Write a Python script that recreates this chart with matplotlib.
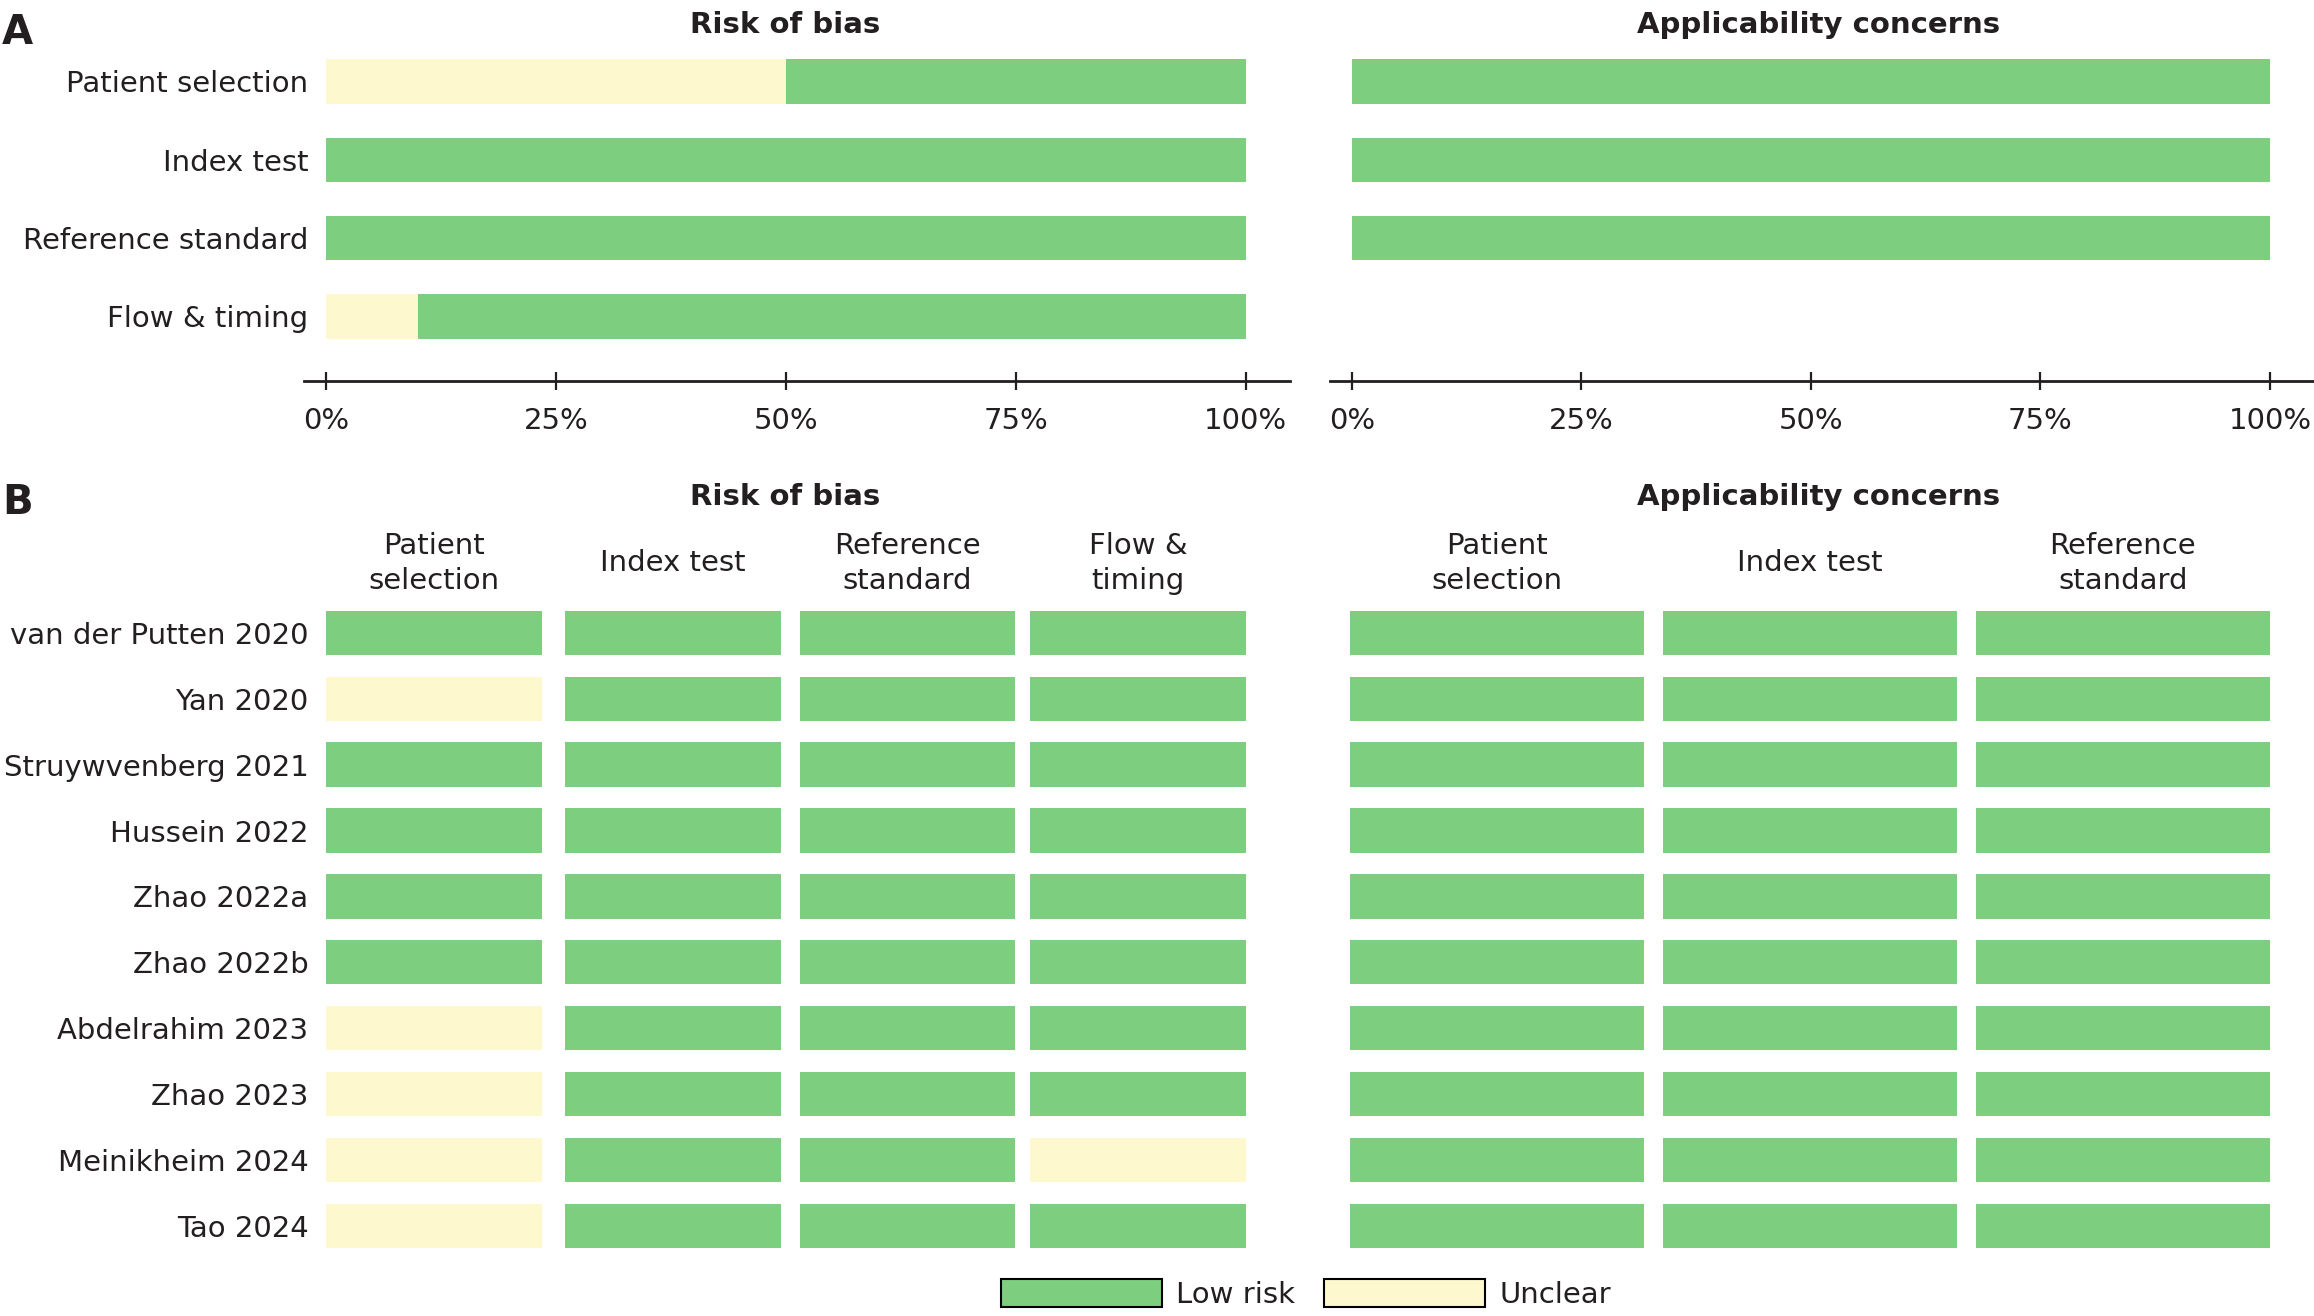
import matplotlib.pyplot as plt
from matplotlib.patches import Patch
import numpy as np

plt.rcParams['font.family'] = 'DejaVu Sans'
plt.rcParams['font.size'] = 21

GREEN = '#7ece7f'
YELLOW = '#fef8cf'
INK = '#231f20'

studies = ['van der Putten 2020', 'Yan 2020', 'Struywvenberg 2021', 'Hussein 2022',
           'Zhao 2022a', 'Zhao 2022b', 'Abdelrahim 2023', 'Zhao 2023',
           'Meinikheim 2024', 'Tao 2024']
rob_domains = ['Patient selection', 'Index test', 'Reference standard', 'Flow & timing']
app_domains = ['Patient selection', 'Index test', 'Reference standard']
rob_headers = ['Patient\nselection', 'Index test', 'Reference\nstandard', 'Flow &\ntiming']
app_headers = ['Patient\nselection', 'Index test', 'Reference\nstandard']

# L = low risk, U = unclear
rob = [['L', 'L', 'L', 'L'],
       ['U', 'L', 'L', 'L'],
       ['L', 'L', 'L', 'L'],
       ['L', 'L', 'L', 'L'],
       ['L', 'L', 'L', 'L'],
       ['L', 'L', 'L', 'L'],
       ['U', 'L', 'L', 'L'],
       ['U', 'L', 'L', 'L'],
       ['U', 'L', 'L', 'U'],
       ['U', 'L', 'L', 'L']]
app = [['L', 'L', 'L'] for s in studies]

cmap = {'L': GREEN, 'U': YELLOW}

# layout helpers (reference measured on a 1568x890 grid)
W, H = 1568.0, 890.0
def box(x0, y0, x1, y1):
    return [x0 / W, 1 - y1 / H, (x1 - x0) / W, (y1 - y0) / H]
def fx(x):
    return x / W
def fy(y):
    return 1 - y / H

fig = plt.figure(figsize=(23.14, 13.16), dpi=100)

# ---------------- panel A: summary bars ----------------
def summary(ax, table, labels, show_labels):
    arr = np.array(table)
    unclear = (arr == 'U').mean(axis=0) * 100
    low = (arr == 'L').mean(axis=0) * 100
    rows = np.arange(len(labels))
    ax.barh(rows, unclear, height=0.566, color=YELLOW)
    ax.barh(rows, low, left=unclear, height=0.566, color=GREEN)
    ax.set_xlim(-2.4, 104.8)
    ax.set_ylim(3.83, -0.472)
    for s in ['top', 'right', 'left']:
        ax.spines[s].set_visible(False)
    ax.spines['bottom'].set_linewidth(2)
    ax.spines['bottom'].set_color(INK)
    ax.set_xticks([0, 25, 50, 75, 100])
    ax.set_xticklabels(['0%', '25%', '50%', '75%', '100%'], color=INK)
    ax.tick_params(axis='x', direction='inout', length=12.7, width=1.6, color=INK, pad=12)
    if show_labels:
        ax.set_yticks(rows)
        ax.set_yticklabels(labels, color=INK)
        ax.tick_params(axis='y', length=0, pad=-3.2)
    else:
        ax.set_yticks([])

axA1 = fig.add_axes(box(206, 30, 874, 258))
summary(axA1, rob, rob_domains, True)
axA2 = fig.add_axes(box(901, 30, 1568, 258))
summary(axA2, app, app_domains, False)

fig.text(fx(12), fy(22), 'A', fontsize=29, fontweight='bold', color=INK, ha='center', va='center')
fig.text(fx(532), fy(17), 'Risk of bias', fontweight='bold', color=INK, ha='center', va='center')
fig.text(fx(1232), fy(17), 'Applicability concerns', fontweight='bold', color=INK, ha='center', va='center')

# ---------------- panel B: traffic-light grid ----------------
# column lefts / width in layout pixels of the reference grid
def grid(ax, table, headers, lefts, w, show_labels):
    arr = np.array(table)
    rows = np.arange(len(studies))
    for j in range(arr.shape[1]):
        ax.barh(rows, w, left=lefts[j], height=0.673, color=[cmap[v] for v in arr[:, j]])
        ax.text(lefts[j] + w / 2, -1.055, headers[j], ha='center', va='center',
                linespacing=1.3, color=INK, clip_on=False)
    ax.set_xlim(0, lefts[-1] + w)
    ax.set_ylim(9.47, -0.516)
    for s in ax.spines.values():
        s.set_visible(False)
    ax.set_xticks([])
    if show_labels:
        ax.set_yticks(rows)
        ax.set_yticklabels(studies, color=INK)
        ax.tick_params(axis='y', length=0, pad=12.7)
    else:
        ax.set_yticks([])

axB1 = fig.add_axes(box(221, 405, 844, 850))
grid(axB1, rob, rob_headers, [0, 162, 321, 477], 146, True)
axB2 = fig.add_axes(box(915, 405, 1538, 850))
grid(axB2, app, app_headers, [0, 212, 424], 199, False)

fig.text(fx(12), fy(340), 'B', fontsize=29, fontweight='bold', color=INK, ha='center', va='center')
fig.text(fx(532), fy(336), 'Risk of bias', fontweight='bold', color=INK, ha='center', va='center')
fig.text(fx(1232), fy(336), 'Applicability concerns', fontweight='bold', color=INK, ha='center', va='center')

handles = [Patch(facecolor=GREEN, edgecolor='black', linewidth=1.5, label='Low risk'),
           Patch(facecolor=YELLOW, edgecolor='black', linewidth=1.5, label='Unclear')]
fig.legend(handles=handles, loc='center', bbox_to_anchor=(fx(885), fy(875)), ncol=2,
           frameon=False, handlelength=5.5, handleheight=1.1, handletextpad=0.5,
           columnspacing=1.0, labelcolor=INK)

fig.savefig('out.png', dpi=100)
